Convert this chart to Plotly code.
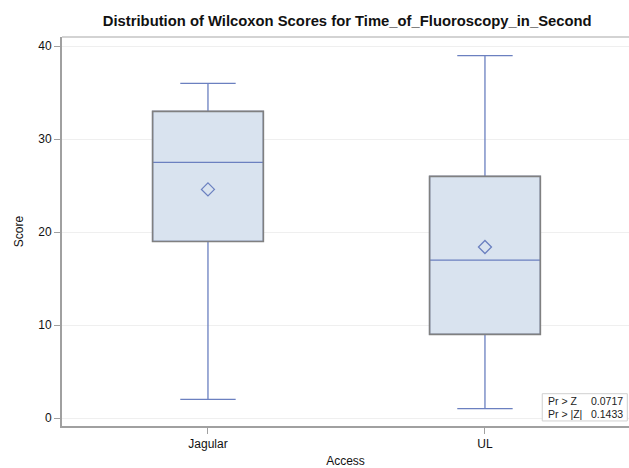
import plotly.graph_objects as go

categories = ["Jagular", "UL"]
q1 = [19.0, 9.0]
median = [27.5, 17.0]
q3 = [33.0, 26.0]
lower = [2.0, 1.0]
upper = [36.0, 39.0]
mean = [24.6, 18.4]
y_ticks = [0, 10, 20, 30, 40]
stat_labels = ["Pr > Z", "Pr > |Z|"]
stat_values = ["0.0717", "0.1433"]

xpos = list(range(len(categories)))
BLUE = "#6b80c0"
GRAY = "#808080"
FONT = "Liberation Sans, Arial, sans-serif"
BOXW = 0.4

fig = go.Figure()
fig.add_trace(go.Box(
    x=xpos, q1=q1, median=median, q3=q3,
    lowerfence=lower, upperfence=upper,
    width=BOXW, whiskerwidth=0.5,
    fillcolor="#d9e3ef", line=dict(color=BLUE, width=1.3),
    boxpoints=False, showlegend=False, hoverinfo="skip",
))
fig.add_trace(go.Scatter(
    x=xpos, y=mean, mode="markers",
    marker=dict(symbol="diamond-open", size=10, color=BLUE, line=dict(width=1.3)),
    showlegend=False, hoverinfo="skip",
))

# gray outline of the boxes
for i, xp in enumerate(xpos):
    fig.add_shape(type="rect", xref="x", yref="y",
                  x0=xp - BOXW / 2, x1=xp + BOXW / 2, y0=q1[i], y1=q3[i],
                  line=dict(color=GRAY, width=1.6), fillcolor="rgba(0,0,0,0)",
                  layer="above")

# top frame line (lighter)
fig.add_shape(type="line", xref="paper", yref="paper", x0=0, x1=1, y0=1, y1=1,
              line=dict(color="#c4c4c4", width=1.5))

# statistics inset
fig.add_shape(type="rect", xref="paper", yref="paper",
              x0=0.847, x1=0.997, y0=0.013, y1=0.083,
              line=dict(color="#d0d0d0", width=1), fillcolor="white", layer="above")
row_y = [0.065, 0.031]
for i in range(len(stat_labels)):
    fig.add_annotation(xref="paper", yref="paper", x=0.853, y=row_y[i],
                       text=stat_labels[i], showarrow=False, xanchor="left",
                       yanchor="middle", font=dict(family=FONT, size=10.5, color="#222"))
    fig.add_annotation(xref="paper", yref="paper", x=0.993, y=row_y[i],
                       text=stat_values[i], showarrow=False, xanchor="right",
                       yanchor="middle", font=dict(family=FONT, size=10.5, color="#222"))

fig.update_layout(
    width=629, height=468,
    margin=dict(l=62, r=0, t=37, b=42),
    paper_bgcolor="white", plot_bgcolor="white",
    title=dict(text="<b>Distribution of Wilcoxon Scores for Time_of_Fluoroscopy_in_Second</b>",
               x=0.552, xanchor="center", y=0.955, yanchor="middle",
               font=dict(family=FONT, size=14.8, color="#111")),
    font=dict(family=FONT, color="#111"),
)
fig.update_xaxes(
    range=[-0.527, 1.52], tickvals=xpos, ticktext=categories,
    showgrid=False, zeroline=False,
    showline=True, linecolor="#a0a0a0", linewidth=2,
    ticks="outside", ticklen=6, tickcolor="#a0a0a0",
    tickfont=dict(family=FONT, size=12, color="#111"),
    title=dict(text="Access", font=dict(family=FONT, size=12, color="#111"), standoff=8),
)
fig.update_yaxes(
    range=[-0.86, 41.0], tickvals=y_ticks,
    showgrid=True, gridcolor="#efefef", gridwidth=1, zeroline=False,
    showline=True, linecolor="#a0a0a0", linewidth=2, mirror=False,
    ticks="outside", ticklen=6, tickcolor="#a0a0a0",
    tickfont=dict(family=FONT, size=12, color="#111"),
    title=dict(text="Score", font=dict(family=FONT, size=12, color="#111"), standoff=12),
)

fig.write_html("out.html")
